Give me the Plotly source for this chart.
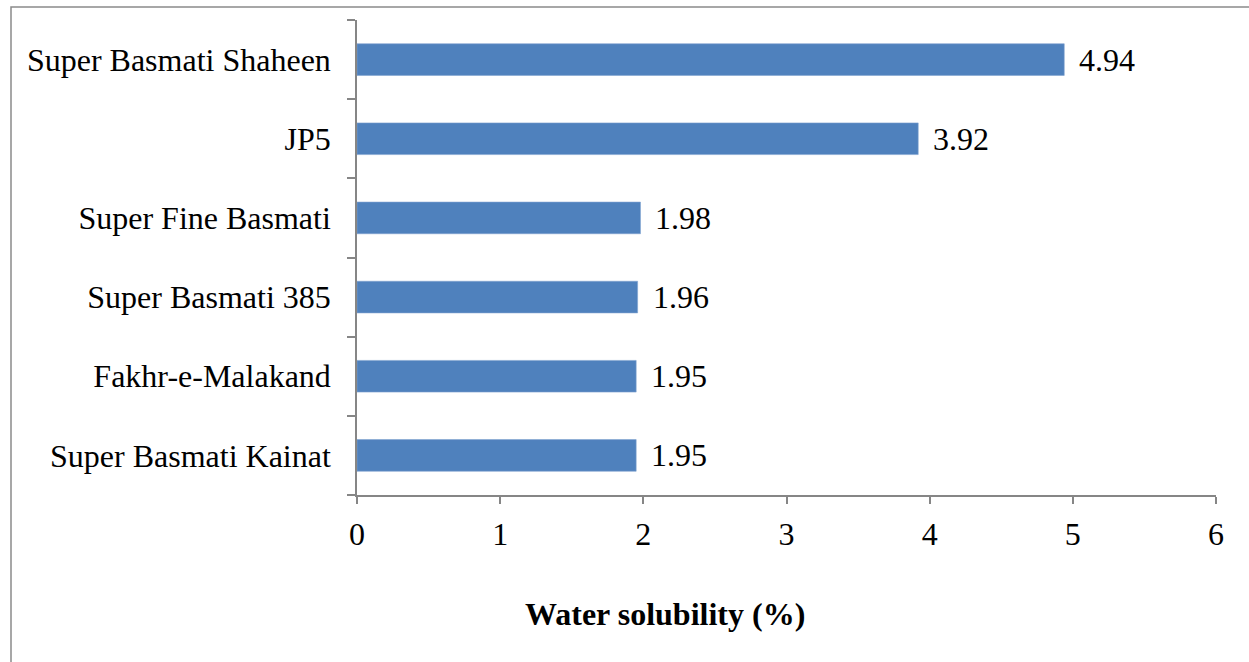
import plotly.graph_objects as go

# Rice varieties, listed bottom to top
varieties = [
    "Super Basmati Kainat",
    "Fakhr-e-Malakand",
    "Super Basmati 385",
    "Super Fine Basmati",
    "JP5",
    "Super Basmati Shaheen",
]
water_solubility = [1.95, 1.95, 1.96, 1.98, 3.92, 4.94]
x_ticks = [0, 1, 2, 3, 4, 5, 6]

FONT = "Liberation Serif, Times New Roman, serif"
FS = 32
AXIS_GREY = "#868686"

fig = go.Figure()
fig.add_trace(go.Bar(
    y=varieties,
    x=water_solubility,
    orientation="h",
    marker=dict(color="#4F81BD", line=dict(color="#7FA3D0", width=0.6)),
    showlegend=False,
    hoverinfo="x+y",
))

# value labels to the right of each bar
for name, val in zip(varieties, water_solubility):
    fig.add_annotation(
        x=val, y=name, xref="x", yref="y",
        text=f"{val:.2f}", showarrow=False,
        xanchor="left", yanchor="middle", xshift=13,
        font=dict(family=FONT, size=FS, color="#000000"),
    )

# axis title
fig.add_annotation(
    x=(665 - 357) / 859, y=(495 - 614) / 475, xref="paper", yref="paper",
    text="<b>Water solubility (%)</b>", showarrow=False,
    xanchor="center", yanchor="middle",
    font=dict(family=FONT, size=FS, color="#000000"),
)

# outer chart frame
fig.add_shape(
    type="rect", xref="paper", yref="paper",
    x0=(11 - 357) / 859, x1=1.2, y0=-0.6, y1=(495 - 7) / 475,
    line=dict(color="#8A8A8A", width=1.5), fillcolor="rgba(0,0,0,0)",
    layer="below",
)

fig.update_layout(
    width=1249, height=662,
    margin=dict(l=357, r=33, t=20, b=167),
    paper_bgcolor="white", plot_bgcolor="white",
    bargap=0.6,
    font=dict(family=FONT, size=FS, color="#000000"),
    xaxis=dict(
        range=[0, 6], tickvals=x_ticks, ticktext=[str(t) for t in x_ticks],
        showgrid=False, zeroline=False,
        showline=True, linecolor=AXIS_GREY, linewidth=1.5,
        ticks="outside", ticklen=7, tickwidth=1.5, tickcolor=AXIS_GREY,
        ticklabelstandoff=3,
        tickfont=dict(family=FONT, size=FS, color="#000000"),
        fixedrange=True,
    ),
    yaxis=dict(
        type="category", categoryorder="array", categoryarray=varieties,
        range=[-0.5, 5.5],
        showgrid=False, zeroline=False,
        showline=True, linecolor=AXIS_GREY, linewidth=1.5,
        ticks="outside", ticklen=8, tickwidth=1.5, tickcolor=AXIS_GREY,
        tickson="boundaries",
        ticklabelstandoff=18,
        tickfont=dict(family=FONT, size=FS, color="#000000"),
        fixedrange=True,
    ),
)

fig.write_html("out.html")
